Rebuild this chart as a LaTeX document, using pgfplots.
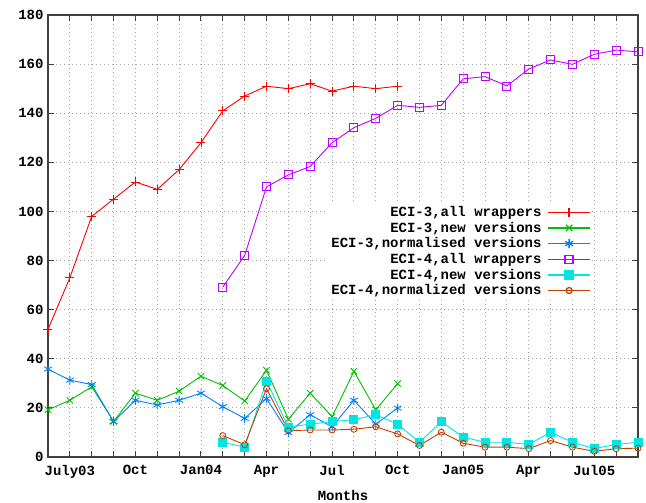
\documentclass[border=0pt]{standalone}
\usepackage{fontspec}
\setmainfont{Liberation Mono}
\usepackage{pgfplots}
\pgfplotsset{compat=1.18}
\definecolor{cRed}{RGB}{255,0,0}
\definecolor{cGreen}{RGB}{0,192,0}
\definecolor{cBlue}{RGB}{0,128,255}
\definecolor{cMag}{RGB}{192,0,255}
\definecolor{cCyan}{RGB}{0,228,228}
\definecolor{cBrown}{RGB}{192,64,0}
\begin{document}
\begin{tikzpicture}
\begin{axis}[
  at={(0pt,0pt)}, anchor=south west,
  scale only axis, width=590pt, height=442pt,
  xmin=0, xmax=27, ymin=0, ymax=180,
  xtick={0,...,27},
  xticklabels={,July03,,,Oct,,,Jan04,,,Apr,,,Jul,,,Oct,,,Jan05,,,Apr,,,Jul05,,},
  ytick={0,20,...,180},
  grid=major,
  grid style={dash pattern=on 1pt off 3pt, gray!70, line width=0.9pt},
  axis line style={line width=1.4pt, black!75},
  tick style={line width=1pt, black!75},
  major tick length=6pt,
  tick align=inside,
  font=\fontsize{14}{16}\selectfont\bfseries,
  /pgf/number format/assume math mode=true,
  xticklabel style={yshift=-5pt},
  yticklabel style={xshift=-1pt},
  xlabel={Months},
  xlabel style={yshift=-5pt},
  legend plot pos=right,
  legend cell align=right,
  legend style={at={(0.922,0.574)}, anchor=north east, draw=none, fill=white,
    inner sep=1pt, column sep=4pt, font=\fontsize{14}{16}\selectfont\bfseries},
  legend image code/.code={\draw[line width=1.3pt,mark repeat=2,mark phase=2] plot coordinates {(0pt,0pt) (21pt,0pt) (42pt,0pt)};},
  every axis plot/.append style={line width=0.9pt},
]
\addplot[color=cRed, mark=+, mark size=4.5pt] coordinates {
(0,52) (1,73) (2,98) (3,105) (4,112) (5,109) (6,117) (7,128) (8,141) (9,147)
(10,151) (11,150) (12,152) (13,149) (14,151) (15,150) (16,151)};
\addlegendentry{ECI-3,all wrappers}
\addplot[color=cGreen, mark=x, mark size=4.5pt] coordinates {
(0,19.2) (1,23.1) (2,28.6) (3,14.5) (4,26) (5,23.1) (6,26.8) (7,32.9) (8,29.1) (9,22.8)
(10,35.3) (11,15.4) (12,26) (13,16.4) (14,34.9) (15,19.2) (16,29.9)};
\addlegendentry{ECI-3,new versions}
\addplot[color=cBlue, mark=asterisk, mark size=4.5pt] coordinates {
(0,35.8) (1,31.3) (2,29.5) (3,14.4) (4,23.1) (5,21.2) (6,23.1) (7,26) (8,20.5) (9,15.7)
(10,23.8) (11,9.9) (12,17.2) (13,12.3) (14,23.1) (15,13.4) (16,19.9)};
\addlegendentry{ECI-3,normalised versions}
\addplot[color=cMag, mark=square, mark size=4pt] coordinates {
(8,69.2) (9,82.1) (10,110) (11,114.9) (12,118.3) (13,128) (14,134.1) (15,137.9) (16,143.2)
(17,142.4) (18,143.2) (19,154) (20,154.9) (21,151.1) (22,158) (23,161.7) (24,159.9)
(25,164) (26,165.7) (27,165)};
\addlegendentry{ECI-4,all wrappers}
\addplot[color=cCyan, mark=square*, mark size=4pt] coordinates {
(8,6) (9,4) (10,30.9) (11,12.1) (12,13.4) (13,14.4) (14,15.2) (15,17.2) (16,13.4)
(17,6) (18,14.4) (19,8.1) (20,6) (21,6) (22,5.1) (23,10.1) (24,6) (25,3.4) (26,5.1) (27,6)};
\addlegendentry{ECI-4,new versions}
\addplot[color=cBrown, mark=o, mark size=3pt] coordinates {
(8,8.7) (9,5) (10,27.8) (11,10.7) (12,11) (13,11) (14,11.3) (15,12.3) (16,9.4)
(17,4.7) (18,10.1) (19,5.6) (20,4) (21,4) (22,3.4) (23,6.7) (24,4) (25,2.3) (26,3.4) (27,3.6)};
\addlegendentry{ECI-4,normalized versions}
\end{axis}
\pgfresetboundingbox
\path[use as bounding box] (-48pt,-46pt) rectangle (598pt,457pt);
\end{tikzpicture}
\end{document}
